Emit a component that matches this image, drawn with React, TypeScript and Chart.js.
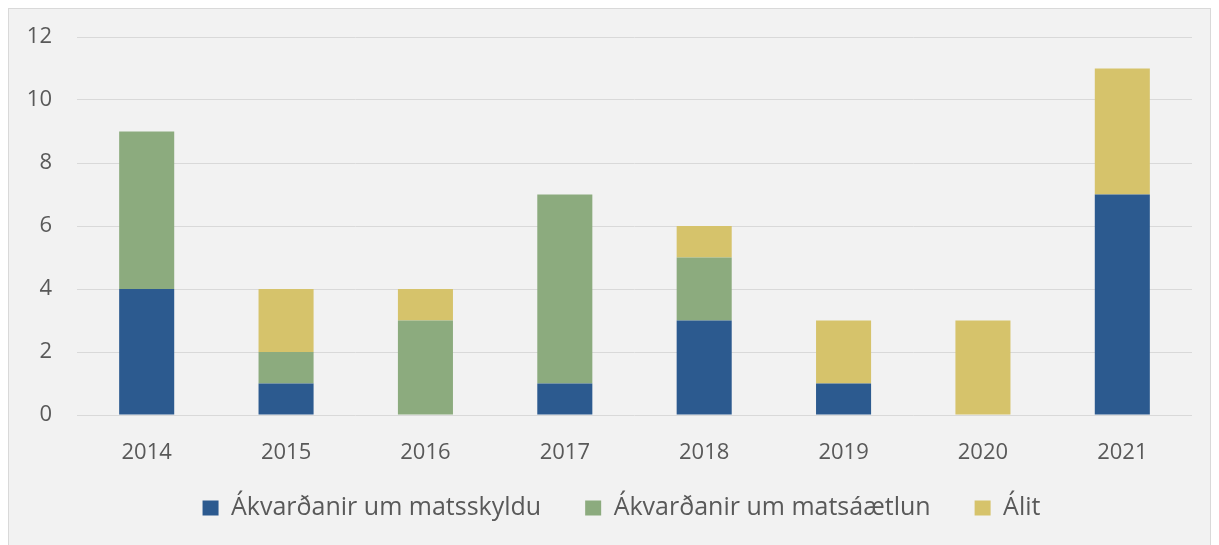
import React, { useEffect, useRef } from "react";
import { Chart, registerables } from "chart.js";

Chart.register(...registerables);

const years = ["2014", "2015", "2016", "2017", "2018", "2019", "2020", "2021"];
const matsskyldu = [4, 1, 0, 1, 3, 1, 0, 7];
const matsaaetlun = [5, 1, 3, 6, 2, 0, 0, 0];
const alit = [0, 2, 1, 0, 1, 2, 3, 4];
const seriesNames = ["Ákvarðanir um matsskyldu", "Ákvarðanir um matsáætlun", "Álit"];
const yTicks = [0, 2, 4, 6, 8, 10, 12];

const FONT = "'Open Sans', 'Noto Sans', sans-serif";
const TEXT = "#595959";
const LEGEND_PAD = 44;
const LEGEND_FONT = 25;

const legendShift = {
  id: "legendShift",
  afterLayout(chart: any) {
    const lg = chart.legend;
    if (!lg) return;
    const top = 499 - LEGEND_PAD - LEGEND_FONT / 2;
    lg.top = top;
    lg.bottom = top + 100;
    lg.height = 100;
    lg.left += 21;
    lg.right += 21;
  },
};

export default function App() {
  const ref = useRef<HTMLCanvasElement | null>(null);
  useEffect(() => {
    document.documentElement.style.overflow = "hidden";
    document.body.style.overflow = "hidden";
    const ctx = ref.current!;
    const chart = new Chart(ctx, {
      type: "bar",
      data: {
        labels: years,
        datasets: [
          { label: seriesNames[0], data: matsskyldu, backgroundColor: "#2c5a8f" },
          { label: seriesNames[1], data: matsaaetlun, backgroundColor: "#8cab7e" },
          { label: seriesNames[2], data: alit, backgroundColor: "#d6c36b" },
        ].map((d) => ({
          ...d,
          barPercentage: 0.395,
          categoryPercentage: 1,
          borderWidth: 0,
        })),
      },
      plugins: [legendShift],
      options: {
        animation: false,
        responsive: true,
        maintainAspectRatio: false,
        layout: { padding: { top: 28, right: 18, left: 0, bottom: 14 } },
        plugins: {
          tooltip: { enabled: false },
          legend: {
            position: "bottom",
            maxHeight: 60,
            labels: {
              boxWidth: 16,
              boxHeight: 15,
              padding: LEGEND_PAD,
              color: TEXT,
              font: { family: FONT, size: LEGEND_FONT },
              generateLabels: (c: any) =>
                Chart.defaults.plugins.legend.labels.generateLabels(c).map((l: any) => ({
                  ...l,
                  lineWidth: 0,
                })),
            },
          },
        },
        scales: {
          x: {
            stacked: true,
            grid: { display: false },
            border: { display: false },
            ticks: { color: TEXT, font: { family: FONT, size: 22 }, padding: 17 },
            afterFit: (s: any) => {
              s.height = 60;
            },
          },
          y: {
            stacked: true,
            min: 0,
            max: 12,
            afterBuildTicks: (s: any) => {
              s.ticks = yTicks.map((v) => ({ value: v }));
            },
            grid: { color: "#d9d9d9", lineWidth: 1, drawTicks: false },
            border: { display: false },
            ticks: { color: TEXT, font: { family: FONT, size: 22 }, padding: 25 },
            afterFit: (s: any) => {
              s.width = 68;
              s.paddingTop = 0;
              s.paddingBottom = 0;
            },
          },
        },
      },
    });
    return () => chart.destroy();
  }, []);
  return (
    <div
      style={{
        position: "relative",
        width: 1201,
        height: 540,
        border: "1px solid #d9d9d9",
        background: "#f2f2f2",
      }}
    >
      <canvas ref={ref} />
    </div>
  );
}
